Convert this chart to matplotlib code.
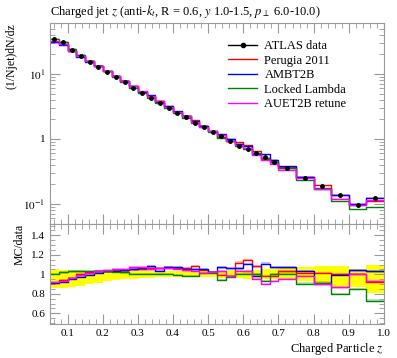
import numpy as np
import matplotlib
matplotlib.use("Agg")
import matplotlib.pyplot as plt
from matplotlib.ticker import MultipleLocator
from matplotlib.lines import Line2D

plt.rcParams['font.family'] = ['Liberation Serif', 'DejaVu Serif']
plt.rcParams['mathtext.fontset'] = 'stix'

# bin edges (charged particle z)
edges = [0.05, 0.075, 0.1, 0.125, 0.15, 0.175, 0.2, 0.225, 0.25, 0.275, 0.3,
         0.325, 0.35, 0.375, 0.4, 0.425, 0.45, 0.475, 0.5, 0.525, 0.55, 0.575,
         0.6, 0.625, 0.65, 0.675, 0.7, 0.75, 0.8, 0.85, 0.9, 0.95, 1.0]

# ATLAS data (1/Njet) dN/dz
data = [34.5, 30.7, 23.4, 18.9, 15.5, 12.9, 10.6, 8.9, 7.45, 6.15, 5.05, 4.32,
        3.62, 2.96, 2.49, 2.16, 1.78, 1.51, 1.28, 1.10, 0.94, 0.79, 0.70, 0.60,
        0.52, 0.45, 0.354, 0.254, 0.191, 0.137, 0.097, 0.122]

# data uncertainty band (relative, lower / upper)
band_lo = [0.855, 0.86, 0.87, 0.88, 0.9, 0.91, 0.93, 0.94, 0.95, 0.955, 0.96, 0.965,
           0.97, 0.97, 0.97, 0.97, 0.97, 0.97, 0.97, 0.965, 0.96, 0.96, 0.955, 0.955,
           0.95, 0.95, 0.95, 0.93, 0.9, 0.86, 0.87, 0.81]
band_hi = [1.05, 1.045, 1.04, 1.04, 1.035, 1.035, 1.035, 1.03, 1.03, 1.03, 1.03, 1.03,
           1.03, 1.03, 1.03, 1.03, 1.03, 1.03, 1.035, 1.035, 1.04, 1.04, 1.045, 1.045,
           1.05, 1.05, 1.06, 1.07, 1.08, 1.09, 1.05, 1.1]

# MC / data ratios
r_perugia = [0.91, 0.94, 0.965, 1.0, 1.02, 1.035, 1.035, 1.04, 1.04, 1.05, 1.05, 1.06,
             1.06, 1.07, 1.06, 1.06, 1.087, 1.046, 1.02, 0.99, 0.985, 1.12, 1.145, 1.08,
             0.985, 0.985, 1.03, 1.01, 1.01, 1.0, 1.0, 0.92]
r_ambt2b = [0.91, 0.92, 0.95, 0.975, 0.99, 1.01, 1.03, 1.03, 1.04, 1.05, 1.06, 1.08,
            1.035, 1.07, 1.07, 1.05, 1.05, 1.05, 1.02, 1.07, 1.06, 1.06, 1.105, 0.985,
            1.11, 1.07, 1.07, 1.035, 0.9, 0.995, 1.04, 1.03]
r_locked = [1.0, 1.02, 1.03, 1.03, 1.035, 1.03, 1.03, 1.025, 1.02, 1.0, 1.0, 1.0,
            1.0, 1.0, 0.99, 0.985, 0.985, 1.01, 1.01, 0.94, 0.975, 1.0, 1.0, 1.0,
            0.93, 1.0, 1.0, 0.905, 0.915, 0.8, 0.85, 0.73]
r_auet2b = [0.92, 0.93, 0.96, 0.99, 1.01, 1.03, 1.04, 1.05, 1.05, 1.07, 1.07, 1.05,
            1.06, 1.06, 1.055, 1.04, 1.035, 1.01, 1.02, 1.03, 0.985, 1.035, 1.03, 0.95,
            0.9, 0.93, 0.95, 0.985, 0.905, 0.865, 1.0, 0.93]

labels = ["Perugia 2011", "AMBT2B", "Locked Lambda", "AUET2B retune"]
colors = ["red", "blue", "green", "magenta"]
ratios = [r_perugia, r_ambt2b, r_locked, r_auet2b]

edges = np.array(edges)
data = np.array(data)
centers = 0.5 * (edges[1:] + edges[:-1])
lo = np.array(band_lo)
hi = np.array(band_hi)


def step(y):
    return np.append(y, y[-1])


fig = plt.figure(figsize=(3.97, 3.58), dpi=100)
ax = fig.add_axes([0.126, 0.374, 0.841, 0.562])
axr = fig.add_axes([0.126, 0.095, 0.841, 0.279], sharex=ax)

# main panel
handles = [Line2D([], [], color='black', marker='o', ms=3, lw=1.0)]
for r, c, lab in zip(ratios, colors, labels):
    mc = data * np.array(r)
    ax.fill_between(edges, step(mc * 0.975), step(mc * 1.025), step='post',
                    color=c, alpha=0.25, lw=0)
    ax.step(edges, step(mc), where='post', color=c, lw=1.0)
    handles.append(Line2D([], [], color=c, lw=1.0))
ax.errorbar(centers, data, yerr=[data * (1 - lo) * 0.5, data * (hi - 1) * 0.5], fmt='o',
            color='black', ms=2.5, lw=0.8, capsize=0, zorder=5)

ax.set_yscale('log')
ax.set_xlim(0.05, 1.0)
ax.set_ylim(0.049, 61)
ax.set_ylabel('(1/Njet)dN/dz', fontsize=8.5, loc='top')
ax.set_yticks([0.1, 1, 10])
ax.set_yticklabels([r'$10^{-1}$', '1', r'$10^{1}$'])
ax.tick_params(labelbottom=False)
ax.set_title(r'Charged jet $z$ (anti-$k_{t}$, R = 0.6, $y$ 1.0-1.5, $p_\perp$ 6.0-10.0)',
             fontsize=9, loc='left', pad=6)

ax.legend(handles, ['ATLAS data'] + labels, loc='upper left',
          bbox_to_anchor=(0.5, 0.97), frameon=False, fontsize=9,
          handlelength=2.3, handletextpad=0.6, labelspacing=0.2)

# ratio panel
axr.fill_between(edges, step(lo), step(hi), step='post', color='yellow', lw=0)
for r, c in zip(ratios, colors):
    r = np.array(r)
    axr.fill_between(edges, step(r - 0.012), step(r + 0.012), step='post',
                     color=c, alpha=0.25, lw=0)
    axr.step(edges, step(r), where='post', color=c, lw=1.0)
axr.set_ylim(0.49, 1.515)
axr.set_yticks([0.6, 0.8, 1.0, 1.2, 1.4])
axr.set_yticklabels(['0.6', '0.8', '1', '1.2', '1.4'])
axr.yaxis.set_minor_locator(MultipleLocator(0.05))
axr.set_ylabel('MC/data', fontsize=8.5, loc='top')
axr.set_xlabel(r'Charged Particle $z$', fontsize=9, loc='right', labelpad=2)
axr.set_xticks([0.1, 0.2, 0.3, 0.4, 0.5, 0.6, 0.7, 0.8, 0.9, 1.0])
axr.xaxis.set_minor_locator(MultipleLocator(0.02))

for a in (ax, axr):
    a.tick_params(which='both', direction='in', top=True, right=True, labelsize=8,
                  color='#999999')
    a.tick_params(which='major', length=7)
    a.tick_params(which='minor', length=3.5)
    for s in a.spines.values():
        s.set_color('#999999')
        s.set_linewidth(0.8)

fig.savefig('out.png', dpi=100)
